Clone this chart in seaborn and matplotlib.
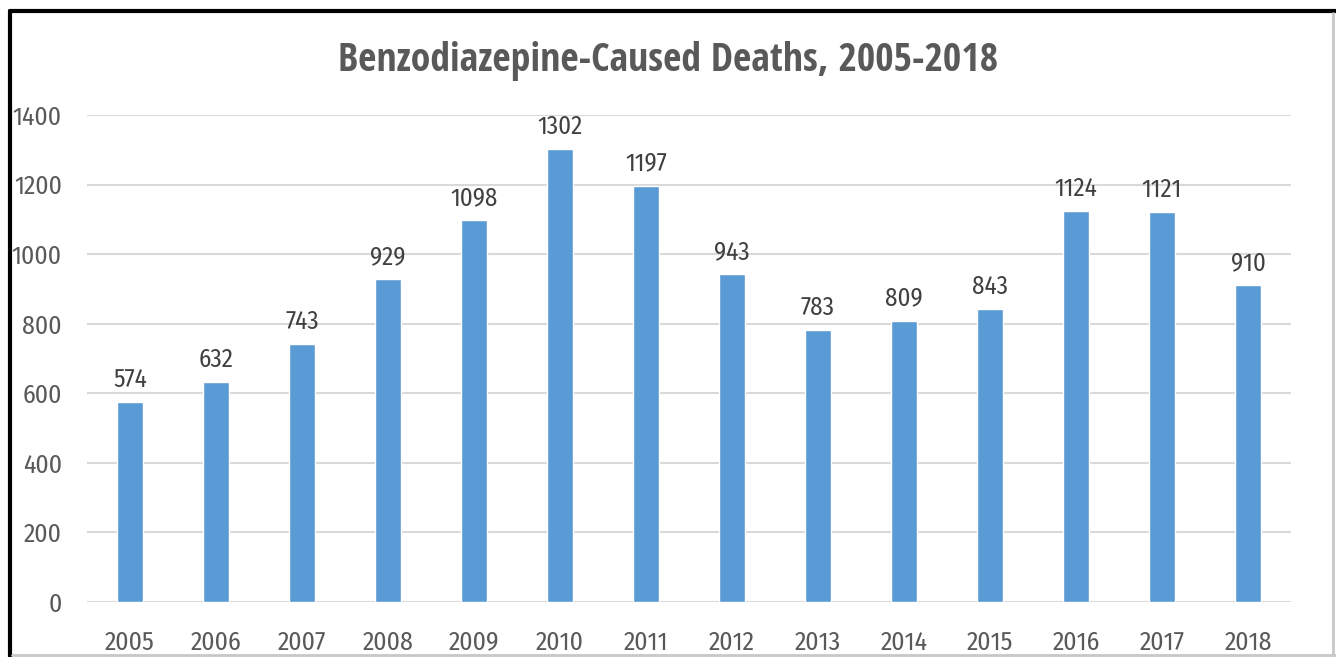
import matplotlib
matplotlib.use("Agg")
import matplotlib.pyplot as plt
import seaborn as sns
import pandas as pd
from matplotlib.lines import Line2D

years = ["2005", "2006", "2007", "2008", "2009", "2010", "2011",
         "2012", "2013", "2014", "2015", "2016", "2017", "2018"]
deaths = [574, 632, 743, 929, 1098, 1302, 1197, 943, 783, 809, 843, 1124, 1121, 910]
yticks = [0, 200, 400, 600, 800, 1000, 1200, 1400]
title = "Benzodiazepine-Caused Deaths, 2005-2018"

sns.set_theme(style="white")
plt.rcParams['font.family'] = ['Fira Sans Condensed', 'DejaVu Sans']
title_family = ['Open Sans Condensed', 'Fira Sans Condensed', 'DejaVu Sans']

df = pd.DataFrame({"year": years, "deaths": deaths})

fig = plt.figure(figsize=(13.36, 6.57), dpi=100)
ax = fig.add_axes([0.0651, 0.0837, 0.9012, 0.7413])
sns.barplot(data=df, x="year", y="deaths", color="#5B9BD5", saturation=1,
            width=0.31, ax=ax, zorder=3)

ax.set_ylim(0, 1400)
ax.set_xlim(-0.5, len(years) - 0.5)
ax.set_yticks(yticks)
ax.yaxis.grid(True, color="#D9D9D9", linewidth=1.5, zorder=0)
ax.xaxis.grid(False)
for s in ax.spines.values():
    s.set_visible(False)
ax.set_xlabel("")
ax.set_ylabel("")
ax.tick_params(axis="both", length=0, labelsize=18.5, labelcolor="#595959")
ax.tick_params(axis="y", pad=18)
ax.tick_params(axis="x", pad=20)

for i, v in enumerate(deaths):
    ax.annotate(str(v), (i, v), xytext=(0, 7), textcoords="offset points",
                ha="center", va="bottom", fontsize=18, color="#404040")

fig.text(0.5, 0.907, title, ha="center", va="center", fontsize=28.6,
         fontweight="bold", color="#595959", family=title_family)

# frame
fig.add_artist(Line2D([10/1336, 10/1336], [0, 1 - 11/657], transform=fig.transFigure,
                      color="black", linewidth=3))
fig.add_artist(Line2D([10/1336, 1], [1 - 11/657, 1 - 11/657], transform=fig.transFigure,
                      color="black", linewidth=3))
fig.add_artist(Line2D([1333/1336, 1333/1336], [0, 1 - 13/657], transform=fig.transFigure,
                      color="#C8C8C8", linewidth=2))
fig.add_artist(Line2D([12/1336, 1], [2/657, 2/657], transform=fig.transFigure,
                      color="#C8C8C8", linewidth=2))

fig.savefig("out.png", dpi=100, facecolor="white")
